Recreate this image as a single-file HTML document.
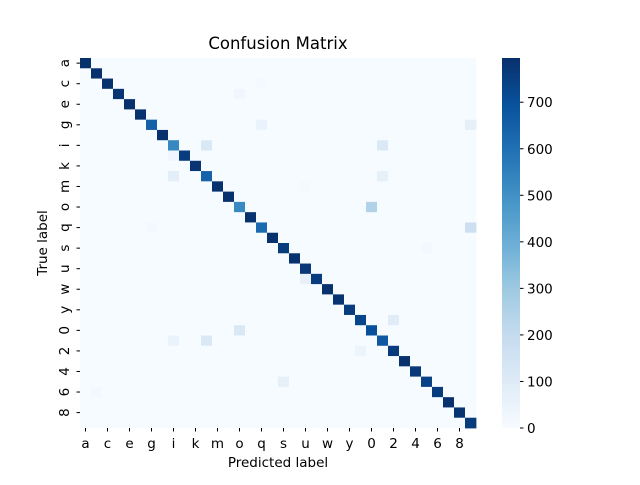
<!DOCTYPE html>
<html><head><meta charset="utf-8"><style>
body{margin:0;background:#fff;}
svg text{font-family:"DejaVu Sans","Liberation Sans",sans-serif;fill:#000;}
</style></head><body>
<svg id="chart" width="640" height="480" viewBox="0 0 640 480" xmlns="http://www.w3.org/2000/svg">
<rect width="640" height="480" fill="#fff"/>
<text x="278" y="49" font-size="16.5" text-anchor="middle">Confusion Matrix</text>
<g id="cells"></g>
<g id="axes"></g>
<text x="278" y="467" font-size="13.5" text-anchor="middle">Predicted label</text>
<text x="0" y="0" font-size="13.5" text-anchor="middle" transform="translate(47,243) rotate(-90)">True label</text>
<defs><linearGradient id="cbgrad" x1="0" y1="1" x2="0" y2="0">
<stop offset="0" stop-color="#f7fbff"/><stop offset="0.125" stop-color="#deebf7"/><stop offset="0.25" stop-color="#c6dbef"/><stop offset="0.375" stop-color="#9ecae1"/><stop offset="0.5" stop-color="#6baed6"/><stop offset="0.625" stop-color="#4292c6"/><stop offset="0.75" stop-color="#2171b5"/><stop offset="0.875" stop-color="#08519c"/><stop offset="1" stop-color="#08306b"/>
</linearGradient></defs>
<rect x="502" y="58" width="18" height="370" fill="url(#cbgrad)"/>
<g id="cbticks"></g>
</svg>
<script>
const labels = ["a","b","c","d","e","f","g","h","i","j","k","l","m","n","o","p","q","r","s","t","u","v","w","x","y","z","0","1","2","3","4","5","6","7","8","9"];
const diagonal = [800,790,790,780,790,790,650,790,530,760,780,640,790,790,520,790,620,790,760,790,770,760,790,780,760,730,700,670,760,790,770,740,760,790,780,760];
// off-diagonal entries: [row, col, value]
const offDiag = [[3,14,30],[6,16,50],[6,35,70],[8,11,120],[8,27,110],[9,8,30],[11,8,80],[11,27,70],[14,26,250],[16,35,170],[16,6,20],[18,31,20],[21,20,60],[25,28,90],[26,14,120],[28,25,40],[27,8,50],[27,11,110],[31,18,70],[32,1,20],[2,16,15],[12,20,10]];
const cbTicks = [0,100,200,300,400,500,600,700];
const vmax = 795;

const X0=80, Y0=58, W=396, H=370, n=labels.length;
const cw=W/n, ch=H/n;
const xPos=i=>X0+i*cw, yPos=i=>Y0+i*ch;
const stops=[[247,251,255],[222,235,247],[198,219,239],[158,202,225],[107,174,214],[66,146,198],[33,113,181],[8,81,156],[8,48,107]];
function color(v){let t=Math.max(0,Math.min(1,v/vmax))*8;let i=Math.min(7,Math.floor(t)),f=t-i;
 const c=stops[i].map((a,k)=>Math.round(a+(stops[i+1][k]-a)*f));return `rgb(${c})`;}
const NS="http://www.w3.org/2000/svg";
const mat=[];for(let r=0;r<n;r++){mat.push(new Array(n).fill(2));mat[r][r]=diagonal[r];}
offDiag.forEach(([r,c,v])=>mat[r][c]=v);
const cells=document.getElementById('cells');
for(let r=0;r<n;r++)for(let c=0;c<n;c++){
 const el=document.createElementNS(NS,'rect');
 el.setAttribute('x',xPos(c));el.setAttribute('y',yPos(r));
 el.setAttribute('width',cw+0.4);el.setAttribute('height',ch+0.4);
 el.setAttribute('fill',color(mat[r][c]));
 
 
 cells.appendChild(el);}
const axes=document.getElementById('axes');
for(let i=0;i<n;i+=2){
 const cx=xPos(i)+cw/2, cy=yPos(i)+ch/2;
 const t1=document.createElementNS(NS,'line');
 t1.setAttribute('x1',cx);t1.setAttribute('x2',cx);t1.setAttribute('y1',428);t1.setAttribute('y2',431.5);t1.setAttribute('stroke','#000');
 
 
 axes.appendChild(t1);
 const l1=document.createElementNS(NS,'text');
 l1.setAttribute('x',cx);l1.setAttribute('y',448);l1.setAttribute('font-size','13.5');l1.setAttribute('text-anchor','middle');l1.textContent=labels[i];
 
 
 axes.appendChild(l1);
 const t2=document.createElementNS(NS,'line');
 t2.setAttribute('x1',76.5);t2.setAttribute('x2',80);t2.setAttribute('y1',cy);t2.setAttribute('y2',cy);t2.setAttribute('stroke','#000');
 
 
 axes.appendChild(t2);
 const l2=document.createElementNS(NS,'text');
 l2.setAttribute('transform',`translate(69,${cy}) rotate(-90)`);l2.setAttribute('font-size','13.5');l2.setAttribute('text-anchor','middle');l2.textContent=labels[i];
 
 
 axes.appendChild(l2);}
const cbt=document.getElementById('cbticks');
cbTicks.forEach(v=>{const y=428-v/vmax*370;
 const t=document.createElementNS(NS,'line');
 t.setAttribute('x1',520);t.setAttribute('x2',523.5);t.setAttribute('y1',y);t.setAttribute('y2',y);t.setAttribute('stroke','#000');
 
 
 cbt.appendChild(t);
 const l=document.createElementNS(NS,'text');
 l.setAttribute('x',527);l.setAttribute('y',y+5);l.setAttribute('font-size','13.5');l.textContent=v;
 
 
 cbt.appendChild(l);});
</script>
</body></html>
